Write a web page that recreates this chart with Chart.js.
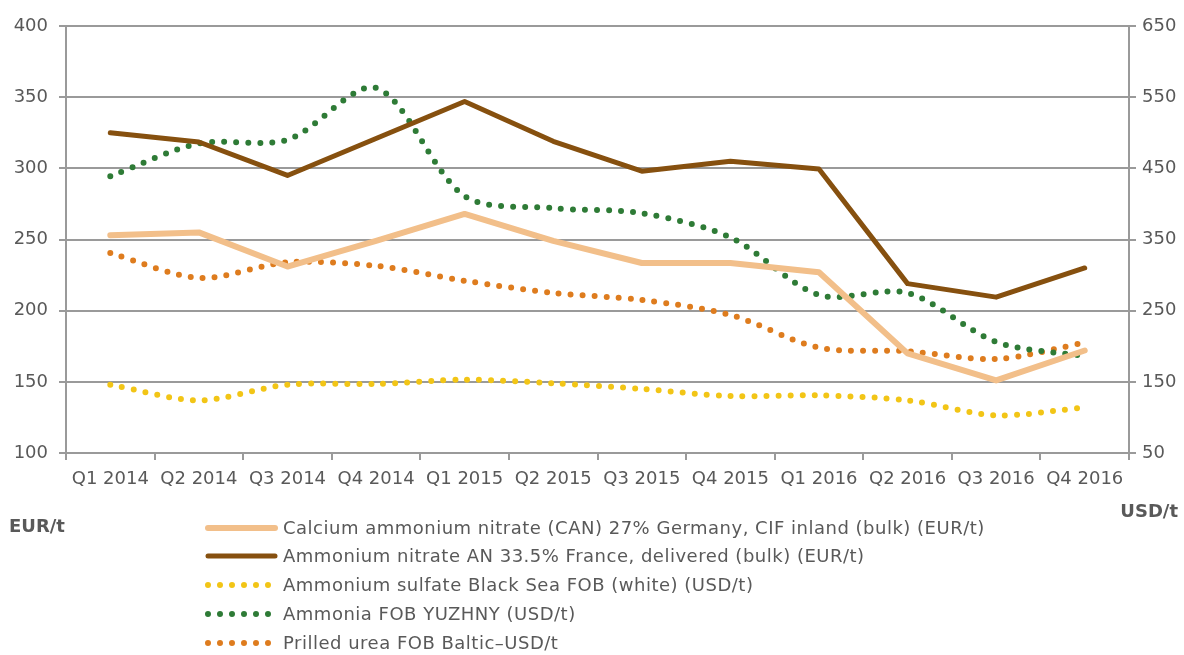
<!DOCTYPE html>
<html>
<head>
<meta charset="utf-8">
<script src="https://cdn.jsdelivr.net/npm/chart.js@4/dist/chart.umd.min.js"></script>
<style>
  html, body { margin: 0; padding: 0; background: #fff; }
  #wrap { width: 1184px; height: 655px; position: relative; }
</style>
</head>
<body>
<div id="wrap"><canvas id="c" width="1184" height="655"></canvas></div>
<script>
const categories = ['Q1 2014','Q2 2014','Q3 2014','Q4 2014','Q1 2015','Q2 2015','Q3 2015','Q4 2015','Q1 2016','Q2 2016','Q3 2016','Q4 2016'];
const canEur = [253, 255, 231, 249, 268, 249, 233.5, 233.5, 227, 170, 151, 172];
const anEur = [325, 318.5, 295, 321, 347, 319, 298, 305, 299.5, 219, 209.5, 230];
const sulfateUsd = [146, 124, 146, 147, 153, 148, 140, 130, 131, 124, 103, 114];
const ammoniaUsd = [439, 485, 490, 563, 411, 394, 387, 353, 272, 275, 206, 186];
const ureaUsd = [331, 296, 318, 313, 292, 275, 265, 244, 198, 193, 182, 205];
const leftTicks = [100, 150, 200, 250, 300, 350, 400];
const rightTicks = [50, 150, 250, 350, 450, 550, 650];
const seriesNames = [
  'Calcium ammonium nitrate (CAN) 27% Germany, CIF inland (bulk) (EUR/t)',
  'Ammonium nitrate AN 33.5% France, delivered (bulk) (EUR/t)',
  'Ammonium sulfate Black Sea FOB (white) (USD/t)',
  'Ammonia FOB YUZHNY (USD/t)',
  'Prilled urea FOB Baltic–USD/t'
];
const leftUnit = 'EUR/t';
const rightUnit = 'USD/t';

const FONT = 'DejaVu Sans';
const TXT = '#595959';
const GRID = '#9a9a9a';

const COL = {
  can: '#F2BF8A',
  an: '#86500F',
  sulfate: '#F2C516',
  ammonia: '#2E7B36',
  urea: '#DE7C1E'
};

const legendPlugin = {
  id: 'customLegend',
  afterDraw(chart) {
    const ctx = chart.ctx;
    ctx.save();
    const rows = [528, 556, 585, 614, 643];
    ctx.textBaseline = 'middle';
    chart.data.datasets.forEach((ds, i) => {
      const y = rows[i];
      ctx.beginPath();
      ctx.strokeStyle = ds.borderColor;
      ctx.lineWidth = ds.borderWidth;
      ctx.lineCap = 'round';
      ctx.setLineDash(ds.borderDash || []);
      ctx.moveTo(208, y);
      ctx.lineTo(275, y);
      ctx.stroke();
      ctx.setLineDash([]);
      ctx.font = '18px "' + FONT + '"';
      ctx.letterSpacing = '0.5px';
      ctx.fillStyle = TXT;
      ctx.textAlign = 'left';
      ctx.fillText(ds.label, 283, y + 1);
    });
    ctx.letterSpacing = '0px';
    ctx.font = 'bold 18px "' + FONT + '"';
    ctx.fillStyle = TXT;
    ctx.textAlign = 'left';
    ctx.fillText(leftUnit, 9, 527);
    ctx.textAlign = 'right';
    ctx.fillText(rightUnit, 1178, 512);
    ctx.restore();
  }
};

function dotted(label, data, color) {
  return {
    label, data, yAxisID: 'yR',
    borderColor: color, backgroundColor: color,
    borderWidth: 6, borderDash: [0, 12], borderCapStyle: 'round',
    pointRadius: 0, tension: 0.3, fill: false
  };
}

new Chart(document.getElementById('c'), {
  type: 'line',
  data: {
    labels: categories,
    datasets: [
      { label: seriesNames[0], data: canEur, yAxisID: 'yL', borderColor: COL.can, backgroundColor: COL.can,
        borderWidth: 6, pointRadius: 0, tension: 0, borderCapStyle: 'round', borderJoinStyle: 'round' },
      { label: seriesNames[1], data: anEur, yAxisID: 'yL', borderColor: COL.an, backgroundColor: COL.an,
        borderWidth: 5, pointRadius: 0, tension: 0, borderCapStyle: 'round', borderJoinStyle: 'round' },
      dotted(seriesNames[2], sulfateUsd, COL.sulfate),
      dotted(seriesNames[3], ammoniaUsd, COL.ammonia),
      dotted(seriesNames[4], ureaUsd, COL.urea)
    ]
  },
  options: {
    responsive: false,
    animation: false,
    layout: { padding: { top: 26, left: 0, right: 0, bottom: 0 } },
    plugins: { legend: { display: false }, tooltip: { enabled: false } },
    scales: {
      x: {
        offset: true,
        grid: { offset: true, drawOnChartArea: false, drawTicks: true, tickLength: 7, color: GRID, lineWidth: 2 },
        border: { display: true, color: GRID, width: 2 },
        ticks: { color: TXT, font: { family: FONT, size: 18 }, padding: 9, maxRotation: 0, autoSkip: false },
        afterFit(s) { s.height = 655 - 453; }
      },
      yL: {
        position: 'left', min: 100, max: 400,
        afterBuildTicks(s) { s.ticks = leftTicks.map(v => ({ value: v })); },
        grid: { color: GRID, lineWidth: 2, drawTicks: true, tickLength: 7 },
        border: { display: true, color: GRID, width: 2 },
        ticks: { color: TXT, font: { family: FONT, size: 18 }, padding: 11 },
        afterFit(s) { s.width = 66; }
      },
      yR: {
        position: 'right', min: 50, max: 650,
        afterBuildTicks(s) { s.ticks = rightTicks.map(v => ({ value: v })); },
        grid: { drawOnChartArea: false, color: GRID, lineWidth: 2, drawTicks: true, tickLength: 7 },
        border: { display: true, color: GRID, width: 2 },
        ticks: { color: TXT, font: { family: FONT, size: 18 }, padding: 6 },
        afterFit(s) { s.width = 55; }
      }
    }
  },
  plugins: [legendPlugin]
});
</script>
</body>
</html>
